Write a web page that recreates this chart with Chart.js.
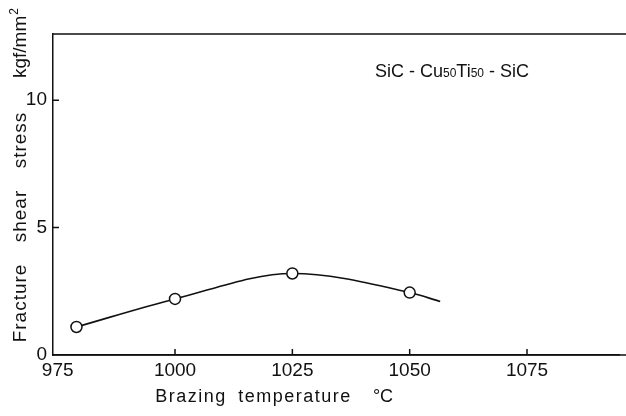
<!DOCTYPE html>
<html>
<head>
<meta charset="utf-8">
<script src="https://cdn.jsdelivr.net/npm/chart.js@4/dist/chart.umd.min.js"></script>
<style>
  html, body { margin: 0; padding: 0; background: #fff; }
  canvas { display: block; }
</style>
</head>
<body>
<canvas id="chart" width="626" height="416"></canvas>
<script>
// measured points (brazing temperature, fracture shear stress)
const temps = [979, 1000, 1025, 1050];
const stress = [1.1, 2.2, 3.2, 2.45];

// hand-drawn fit curve through the points, running a bit past the last one
const curveTemps = [979, 1000, 1025, 1050, 1056.5];
const curveStress = [1.1, 2.2, 3.2, 2.45, 2.1];

const xTicks = [975, 1000, 1025, 1050, 1075];
const yTicks = [0, 5, 10];

const FONT = '"Liberation Sans", Arial, sans-serif';
const INK = '#111';

const pairs = (xs, ys) => xs.map((x, i) => ({ x, y: ys[i] }));

// frame top line, inward ticks, axis titles and the alloy label
const decor = {
  id: 'decor',
  afterDraw(chart) {
    const { ctx, chartArea: a, scales: { x, y } } = chart;
    ctx.save();
    ctx.strokeStyle = INK;
    ctx.lineWidth = 1.5;
    ctx.beginPath();
    ctx.moveTo(a.left, a.top);
    ctx.lineTo(chart.width, a.top);
    ctx.moveTo(a.left, a.bottom);
    ctx.lineTo(chart.width, a.bottom);
    xTicks.slice(1).forEach(v => {
      const px = x.getPixelForValue(v);
      ctx.moveTo(px, a.bottom);
      ctx.lineTo(px, a.bottom - 6);
    });
    yTicks.slice(1).forEach(v => {
      const py = y.getPixelForValue(v);
      ctx.moveTo(a.left, py);
      ctx.lineTo(a.left + 6, py);
    });
    ctx.stroke();

    ctx.fillStyle = INK;
    ctx.textBaseline = 'alphabetic';
    ctx.textAlign = 'center';

    // x title
    ctx.font = '18px ' + FONT;
    ctx.letterSpacing = '1.5px';
    ctx.fillText('Brazing', 191, 402);
    ctx.fillText('temperature', 295, 402);
    ctx.letterSpacing = '0px';
    ctx.fillText('°C', 383, 402);

    // y title (rotated)
    ctx.save();
    ctx.translate(26, 0);
    ctx.rotate(-Math.PI / 2);
    ctx.font = '19px ' + FONT;
    ctx.letterSpacing = '1px';
    ctx.fillText('Fracture', -303, 0);
    ctx.fillText('shear', -216, 0);
    ctx.fillText('stress', -140, 0);
    ctx.letterSpacing = '0px';
    ctx.textAlign = 'left';
    ctx.fillText('kgf/mm', -78, 0);
    const w = ctx.measureText('kgf/mm').width;
    ctx.font = '12px ' + FONT;
    ctx.fillText('2', -78 + w + 1, -8);
    ctx.restore();

    // alloy label with subscripts
    const parts = [
      ['SiC ', 18], ['- ', 18], ['Cu', 18], ['50', 12],
      ['Ti', 18], ['50', 12], [' - ', 18], ['SiC', 18]
    ];
    ctx.textAlign = 'left';
    let cx = 375;
    parts.forEach(([t, size]) => {
      ctx.font = size + 'px ' + FONT;
      ctx.fillText(t, cx, 77);
      cx += ctx.measureText(t).width;
    });
    ctx.restore();
  }
};

new Chart(document.getElementById('chart'), {
  type: 'scatter',
  data: {
    datasets: [
      {
        data: pairs(temps, stress),
        showLine: false,
        pointRadius: 5.5,
        pointBorderWidth: 1.5,
        pointBackgroundColor: '#fff',
        pointBorderColor: INK,
        order: 0
      },
      {
        type: 'line',
        data: pairs(curveTemps, curveStress),
        borderColor: INK,
        borderWidth: 1.6,
        pointRadius: 0,
        cubicInterpolationMode: 'monotone',
        fill: false,
        order: 1
      }
    ]
  },
  options: {
    responsive: false,
    animation: false,
    devicePixelRatio: 1,
    layout: { padding: { top: 34, right: 0, left: 0, bottom: 0 } },
    plugins: { legend: { display: false }, tooltip: { enabled: false } },
    scales: {
      x: {
        type: 'linear',
        min: 974,
        max: 1094.6,
        afterBuildTicks: s => { s.ticks = xTicks.map(value => ({ value })); },
        afterFit: s => { s.height = 61; s.paddingLeft = 0; s.paddingRight = 0; },
        grid: { display: false, drawTicks: false },
        border: { display: true, color: INK, width: 1.5 },
        ticks: {
          padding: 4,
          color: INK,
          font: { family: FONT, size: 19 },
          maxRotation: 0,
          callback: v => String(v)
        }
      },
      y: {
        min: 0,
        max: 12.6,
        afterBuildTicks: s => { s.ticks = yTicks.map(value => ({ value })); },
        afterFit: s => { s.width = 53; s.paddingTop = 0; s.paddingBottom = 0; },
        grid: { display: false, drawTicks: false },
        border: { display: true, color: INK, width: 1.5 },
        ticks: {
          padding: 6,
          color: INK,
          font: { family: FONT, size: 19 },
          callback: v => String(v)
        }
      }
    }
  },
  plugins: [decor]
});
</script>
</body>
</html>
